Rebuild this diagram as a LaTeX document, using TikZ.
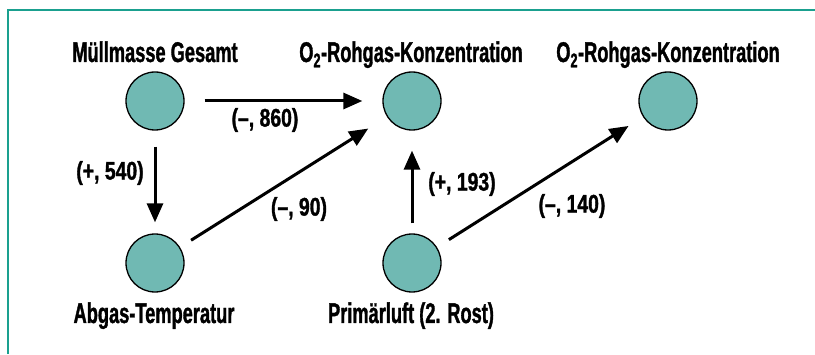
\documentclass[tikz,border=0pt]{standalone}
\usepackage{fontspec}
\newfontfamily\nodefont[FakeStretch=0.64,FakeBold=1.2]{Liberation Sans}
\newfontfamily\edgefont[FakeStretch=0.76,FakeBold=1.2]{Liberation Sans}
\usetikzlibrary{arrows.meta}
\definecolor{frameteal}{HTML}{1AA08F}
\definecolor{circfill}{HTML}{70B9B3}
\begin{document}
\begin{tikzpicture}[x=1pt,y=1pt,
  var/.style={circle,draw=black,line width=1.3pt,fill=circfill,minimum size=58pt,inner sep=0pt},
  vlabel/.style={anchor=base,inner sep=0pt,font=\nodefont\bfseries\fontsize{28.5}{32}\selectfont},
  elabel/.style={inner sep=0pt,font=\edgefont\bfseries\fontsize{25.5}{29}\selectfont},
  arr/.style={line width=3pt,-{Triangle[length=19pt,width=16pt]}}]
\useasboundingbox (0,0) rectangle (815,354);
\draw[frameteal,line width=2pt] (8,0) -- (8,344) -- (815,344);
% variables
\node[var] (mull) at (155,253) {};
\node[var] (o2a) at (412,253) {};
\node[var] (o2b) at (668,253) {};
\node[var] (abgas) at (155,91) {};
\node[var] (prim) at (412,91) {};
% labels
\node[vlabel] (lmull) at (155,292) {Müllmasse Gesamt};
\node[vlabel] (lo2a) at (411,292) {O\textsubscript{2}-Rohgas-Konzentration};
\node[vlabel] (lo2b) at (668,292) {O\textsubscript{2}-Rohgas-Konzentration};
\node[vlabel] (labgas) at (154,31) {Abgas-Temperatur};
\node[vlabel] (lprim) at (411,31) {Primärluft (2. Rost)};
% connectors
\draw[arr,shorten <=20pt,shorten >=20pt] (mull) -- (o2a);
\draw[arr,shorten <=16pt,shorten >=11pt] (mull) -- (abgas);
\draw[arr,shorten <=13pt,shorten >=22pt] (abgas) -- (o2a);
\draw[arr,shorten <=10pt,shorten >=20pt] (prim) -- (o2a);
\draw[arr,shorten <=14pt,shorten >=17pt] (prim) -- (o2b);
% edge labels
\node[elabel] (e1) at (265,234) {(–, 860)};
\node[elabel] (e2) at (110,181) {(+, 540)};
\node[elabel] (e3) at (299,145) {(–, 90)};
\node[elabel] (e4) at (462,170) {(+, 193)};
\node[elabel] (e5) at (572,148) {(–, 140)};
\end{tikzpicture}
\end{document}
